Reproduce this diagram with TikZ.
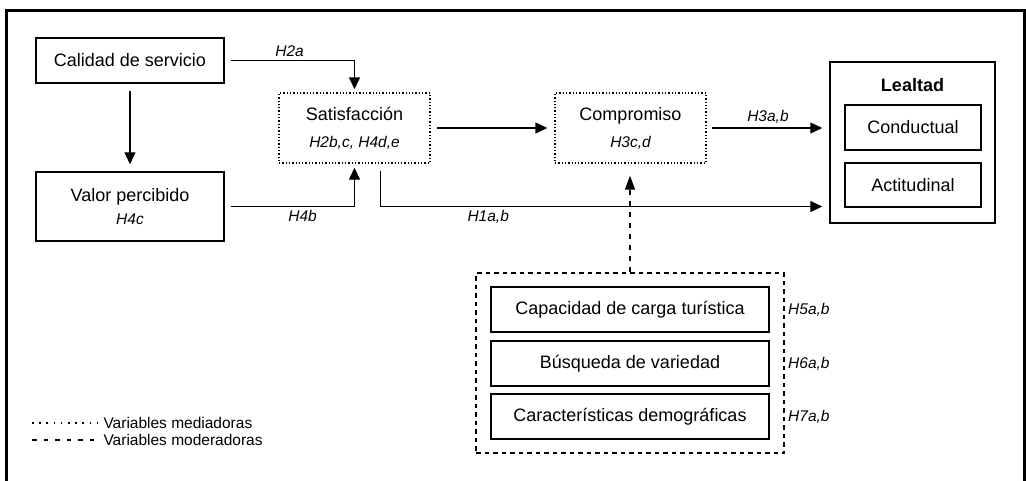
\documentclass[tikz,border=0pt]{standalone}
\usepackage{fontspec}
\setmainfont{Liberation Sans}
\usetikzlibrary{arrows.meta}
\newcommand{\legfont}{\fontsize{15.5}{18}\selectfont}
\newcommand{\hyp}[1]{{\legfont\itshape #1}}

\begin{document}
\begin{tikzpicture}[x=1pt,y=-1pt,
	every node/.style={font=\fontsize{18}{22}\selectfont},
	box/.style={draw,line width=1.5pt,minimum width=188pt,minimum height=45pt,inner sep=0pt,align=center},
	mediadora/.style={draw,line width=1.4pt,dash pattern=on 1.3pt off 2pt,minimum width=151pt,minimum height=70pt,inner sep=0pt,align=center},
	link/.style={line width=1.4pt,-{Triangle[length=12pt,width=11pt]}}]
	\useasboundingbox (0,0) rectangle (1026,480);
	\draw[line width=3pt] (6,10) rectangle (1024.5,495);
	
	\node (calidad) [box] at (130,60.5) {Calidad de servicio};
	\node (valor) [box,minimum height=69pt] at (130,206.5) {Valor percibido\\[1pt]\hyp{H4c}};
	\node (satisf) [mediadora] at (354.5,128) {Satisfacción\\[5pt]\hyp{H2b,c, H4d,e}};
	\node (comprom) [mediadora] at (630.5,128) {Compromiso\\[5pt]\hyp{H3c,d}};
	
	\node (lealtad) [draw,line width=1.5pt,minimum width=165pt,minimum height=161pt] at (912.5,142.5) {};
	\node (leatitle) [font=\fontsize{18}{22}\selectfont\bfseries] at (912.5,85) {Lealtad};
	\node (conduct) [box,minimum width=136pt] at (913,127.5) {Conductual};
	\node (actitud) [box,minimum width=136pt,minimum height=44pt] at (913,185) {Actitudinal};
	
	\node (moder) [draw,line width=1.4pt,dash pattern=on 4.5pt off 4pt,minimum width=308pt,minimum height=180pt] at (630,363) {};
	\node (carga) [box,minimum width=278pt] at (630,309.5) {Capacidad de carga turística};
	\node (varied) [box,minimum width=278pt] at (630,363.5) {Búsqueda de variedad};
	\node (demog) [box,minimum width=278pt] at (630,416.5) {Características demográficas};
	\node (h5) [anchor=west] at (moder.east |- carga.east) {\hyp{H5a,b}};
	\node (h6) [anchor=west] at (moder.east |- varied.east) {\hyp{H6a,b}};
	\node (h7) [anchor=west] at (moder.east |- demog.east) {\hyp{H7a,b}};
	
	\coordinate (h1start) at ([xshift=26pt]satisf.south);
	\coordinate (h1end) at (lealtad.west |- valor.east);
	\draw[link,shorten <=7pt,shorten >=7pt] (calidad) -- (valor);
	\draw[link,shorten <=6pt,shorten >=3pt] (calidad.east) -| node[pos=0.25,above] {\hyp{H2a}} (satisf.north);
	\draw[link,shorten <=6pt,shorten >=4pt] (valor.east) -| node[pos=0.3,below] {\hyp{H4b}} (satisf.south);
	\draw[link,shorten <=7pt,shorten >=7pt] (h1start) |- node[pos=0.62,below] {\hyp{H1a,b}} (h1end);
	\draw[link,shorten <=6pt,shorten >=7pt] (satisf) -- (comprom);
	\draw[link,shorten <=5pt,shorten >=7pt] (comprom.east) -- node[above] {\hyp{H3a,b}} (comprom.east -| lealtad.west);
	%\draw[dashed,->] (moder) -- (comprom);
	\draw[line width=1.4pt,dash pattern=on 5pt off 6pt,-{Triangle[length=14pt,width=10pt]},shorten >=12pt] (moder.north) -- (moder.north |- comprom.south);
	
	\node (legmed) [anchor=west] at (100,423) {\legfont Variables mediadoras};
	\node (legmod) [anchor=west] at (100,440) {\legfont Variables moderadoras};
	\draw[line width=1.6pt,dash pattern=on 1.6pt off 5.6pt] ([xshift=-68pt]legmed.west) -- ([xshift=-3pt]legmed.west);
	\draw[line width=1.4pt,dash pattern=on 4.5pt off 7pt] ([xshift=-68pt]legmod.west) -- ([xshift=-3pt]legmod.west);
\end{tikzpicture}
\end{document}
